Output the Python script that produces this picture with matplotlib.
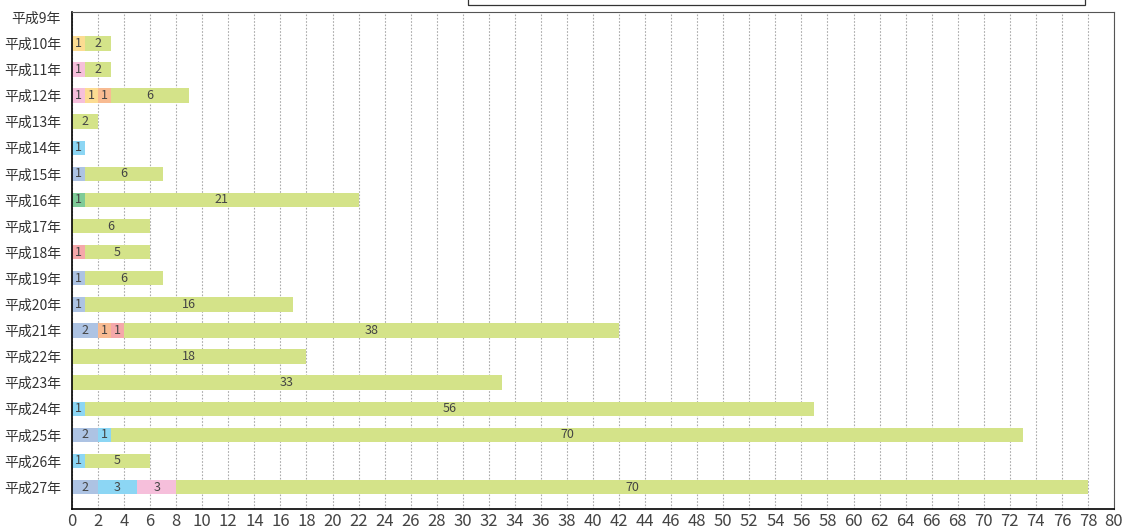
import matplotlib.pyplot as plt
import matplotlib.patches as patches
import numpy as np

plt.rcParams['font.family'] = ['Noto Sans CJK JP', 'DejaVu Sans']

years = ['平成9年', '平成10年', '平成11年', '平成12年', '平成13年', '平成14年',
         '平成15年', '平成16年', '平成17年', '平成18年', '平成19年', '平成20年',
         '平成21年', '平成22年', '平成23年', '平成24年', '平成25年', '平成26年',
         '平成27年']

# one list per category, in stacking order
bluegray  = [0, 0, 0, 0, 0, 0, 1, 0, 0, 0, 1, 1, 2, 0, 0, 0, 2, 0, 2]
lightblue = [0, 0, 0, 0, 0, 1, 0, 0, 0, 0, 0, 0, 0, 0, 0, 1, 1, 1, 3]
green     = [0, 0, 0, 0, 0, 0, 0, 1, 0, 0, 0, 0, 0, 0, 0, 0, 0, 0, 0]
pink      = [0, 0, 1, 1, 0, 0, 0, 0, 0, 0, 0, 0, 0, 0, 0, 0, 0, 0, 3]
yellow    = [0, 1, 0, 1, 0, 0, 0, 0, 0, 0, 0, 0, 0, 0, 0, 0, 0, 0, 0]
orange    = [0, 0, 0, 1, 0, 0, 0, 0, 0, 0, 0, 0, 1, 0, 0, 0, 0, 0, 0]
red       = [0, 0, 0, 0, 0, 0, 0, 0, 0, 1, 0, 0, 1, 0, 0, 0, 0, 0, 0]
other     = [0, 2, 2, 6, 2, 0, 6, 21, 6, 5, 6, 16, 38, 18, 33, 56, 70, 5, 70]

series = [bluegray, lightblue, green, pink, yellow, orange, red, other]
colors = ['#adc3e3', '#8cd6f4', '#7fcb98', '#f6bfdb', '#fcdc92', '#f8bb92',
          '#f5a8aa', '#d4e389']

fig = plt.figure(figsize=(11.24, 5.28), dpi=100)
ax = fig.add_axes([72 / 1124, 19 / 528, 1042 / 1124, 497 / 528])

y = np.arange(len(years))
left = np.zeros(len(years))
for vals, col in zip(series, colors):
    vals = np.array(vals, dtype=float)
    ax.barh(y, vals, left=left, height=0.55, color=col, zorder=2)
    for yi, (l, v) in enumerate(zip(left, vals)):
        if v > 0:
            ax.text(l + v / 2, yi, f'{int(v)}', ha='center', va='center',
                    fontsize=9, color='#444444', zorder=3)
    left += vals

ax.set_xlim(0, 80)
ax.set_ylim(18.84, -0.2)
ax.set_xticks(np.arange(0, 81, 2))
ax.set_yticks(y)
ax.set_yticklabels(years)
ax.tick_params(axis='x', length=0, labelsize=12, colors='#444444', pad=3)
ax.tick_params(axis='y', length=0, labelsize=10, colors='#333333', pad=8)
ax.xaxis.grid(True, linestyle=(0, (1.5, 1.5)), color='#aaaaaa', linewidth=0.8, zorder=0)
ax.set_axisbelow(True)

ax.spines['left'].set_color('black')
ax.spines['bottom'].set_color('black')
ax.spines['left'].set_linewidth(1.2)
ax.spines['bottom'].set_linewidth(1.2)
ax.spines['top'].set_color('#555555')
ax.spines['right'].set_color('#555555')
ax.spines['top'].set_linewidth(0.8)
ax.spines['right'].set_linewidth(0.8)

# legend box, cut off at the top of the picture
fig.patches.append(patches.Rectangle((468 / 1124, 523 / 528), 617 / 1124, 0.1,
                                     transform=fig.transFigure, fill=False,
                                     edgecolor='#333333', linewidth=0.9))

fig.savefig('out.png', dpi=100)
